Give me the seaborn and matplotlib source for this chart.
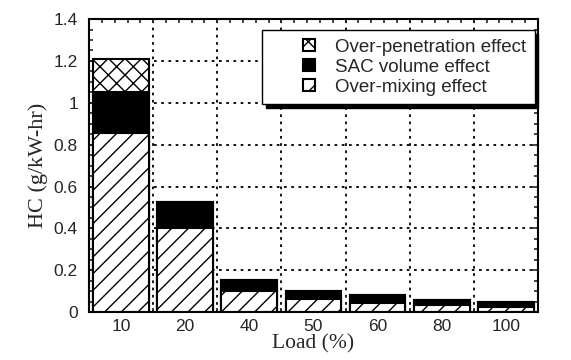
import numpy as np
import matplotlib
matplotlib.use("Agg")
import matplotlib.pyplot as plt
import seaborn as sns
from matplotlib.patches import Patch, Rectangle
from matplotlib.legend_handler import HandlerPatch
from matplotlib.ticker import MultipleLocator, FixedLocator

loads = ['10', '20', '40', '50', '60', '80', '100']
over_mixing = [0.855, 0.40, 0.10, 0.065, 0.045, 0.032, 0.024]
sac_volume = [0.195, 0.125, 0.055, 0.037, 0.035, 0.027, 0.022]
over_penetration = [0.16, 0.0, 0.0, 0.0, 0.0, 0.0, 0.0]

sns.set_style('white')
plt.rcParams['font.family'] = ['Liberation Sans', 'DejaVu Sans']
plt.rcParams['hatch.linewidth'] = 1.0


class SquareRight(HandlerPatch):
    # small square sitting at the right end of the handle box
    def create_artists(self, legend, orig_handle, xdescent, ydescent,
                       width, height, fontsize, trans):
        s = 9.0  # points
        p = Rectangle((width - s - xdescent, -ydescent + (height - s) / 2), s, s)
        self.update_prop(p, orig_handle, legend)
        p.set_transform(trans)
        return [p]


lvl1 = np.array(over_mixing)
lvl2 = lvl1 + np.array(sac_volume)
lvl3 = lvl2 + np.array(over_penetration)

fig = plt.figure(figsize=(5.71, 3.6), dpi=100)
ax = fig.add_axes([0.156, 0.133, 0.786, 0.814])

# grid first, bars cover it
for b in np.arange(0.5, 6, 1):
    ax.axvline(b, color='black', linestyle=(0, (1.5, 2.5)), linewidth=1.3, zorder=0)
for h in np.arange(0.2, 1.4, 0.2):
    ax.axhline(h, color='black', linestyle=(0, (1.5, 2.5)), linewidth=1.3, zorder=0)

common = dict(edgecolor='black', linewidth=1.5, width=0.87, saturation=1, ax=ax, zorder=2)
sns.barplot(x=loads, y=lvl3, color='white', hatch='xx', **common)
sns.barplot(x=loads, y=lvl2, color='black', **common)
sns.barplot(x=loads, y=lvl1, color='white', hatch='//', **common)

ax.set_xlim(-0.5, 6.5)
ax.set_ylim(0, 1.4)
ax.yaxis.set_minor_locator(MultipleLocator(0.05))
ax.set_yticks(np.arange(0, 1.41, 0.2))
ax.set_yticklabels(['0', '0.2', '0.4', '0.6', '0.8', '1', '1.2', '1.4'])
ax.xaxis.set_minor_locator(FixedLocator(np.arange(-0.5, 6.51, 0.2)))

ax.tick_params(axis='x', which='major', length=0, labelsize=12.5, pad=5)
ax.tick_params(axis='x', which='minor', direction='in', top=True, bottom=True, length=3, width=1.2)
ax.tick_params(axis='y', which='major', direction='in', left=True, right=True, length=5,
               width=1.2, labelsize=12.5, pad=8)
ax.tick_params(axis='y', which='minor', direction='in', left=True, right=True, length=3, width=1.2)
for s in ax.spines.values():
    s.set_linewidth(1.5)
    s.set_color('black')
    s.set_zorder(5)

ax.set_xlabel('Load (%)', family=['Liberation Serif'], fontsize=15.5, labelpad=0)
ax.set_ylabel('HC (g/kW-hr)', family=['Liberation Serif'], fontsize=16, labelpad=4)

handles = [
    Patch(facecolor='white', edgecolor='black', hatch='xx', linewidth=1.5),
    Patch(facecolor='black', edgecolor='black', linewidth=1.5),
    Patch(facecolor='white', edgecolor='black', hatch='//', linewidth=1.5),
]
labels = ['Over-penetration effect', 'SAC volume effect', 'Over-mixing effect']
leg = ax.legend(handles, labels, loc='upper right', bbox_to_anchor=(0.993, 0.962),
                borderaxespad=0, fancybox=False, framealpha=1, edgecolor='black',
                shadow={'color': 'black', 'alpha': 1, 'ox': 2.5, 'oy': -2.5},
                handler_map={Patch: SquareRight()},
                handlelength=2.4, handleheight=0.7, handletextpad=1.05,
                labelspacing=0.15, borderpad=0.45, fontsize=13.5)
leg.get_frame().set_linewidth(1.0)
leg.set_zorder(10)

fig.savefig('out.png', dpi=100)
